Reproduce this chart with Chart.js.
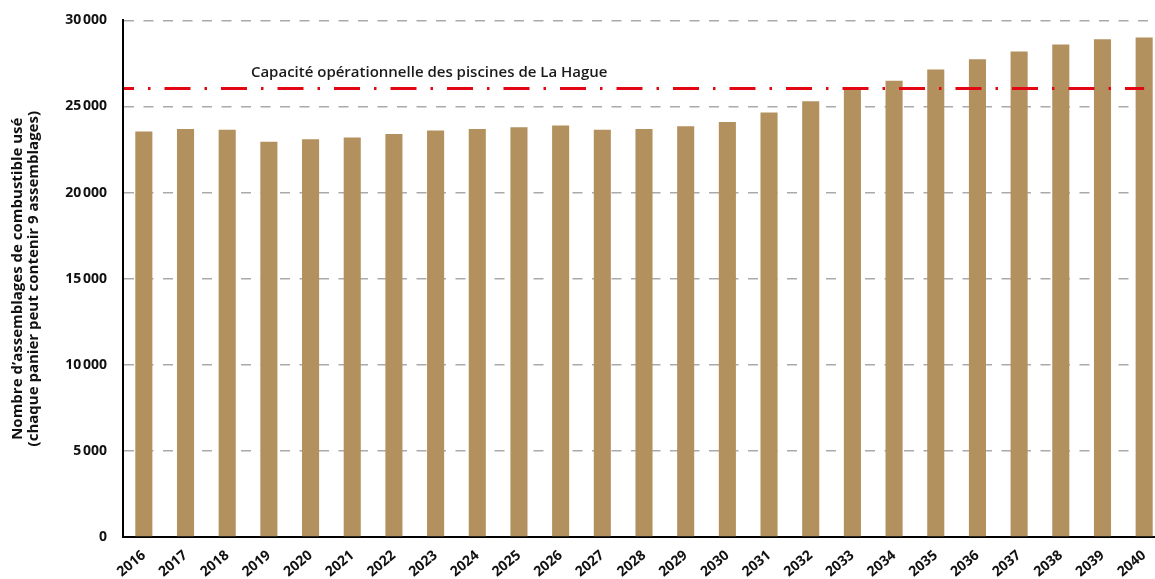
<!DOCTYPE html>
<html lang="fr">
<head>
<meta charset="utf-8">
<title>Assemblages de combustible usé</title>
<script src="https://cdn.jsdelivr.net/npm/chart.js@4/dist/chart.umd.min.js"></script>
<style>
    html, body { margin: 0; padding: 0; background: #fff; overflow: hidden; }
    #wrap { width: 1165px; height: 583px; margin-top: -4px; }
</style>
</head>
<body>
<div id="wrap"><canvas id="chart"></canvas></div>
<script>
// Données
const annees = ['2016', '2017', '2018', '2019', '2020', '2021', '2022', '2023', '2024', '2025',
    '2026', '2027', '2028', '2029', '2030', '2031', '2032', '2033', '2034', '2035',
    '2036', '2037', '2038', '2039', '2040'];
const assemblages = [23550, 23700, 23650, 22950, 23100, 23200, 23400, 23600, 23700, 23800,
    23900, 23650, 23700, 23850, 24100, 24650, 25300, 26000, 26500, 27150,
    27750, 28200, 28600, 28900, 29000];
const capacite = 26050;
const capaciteLabel = 'Capacité opérationnelle des piscines de La Hague';
const yTicks = [0, 5000, 10000, 15000, 20000, 25000, 30000];
const yTitre = ['Nombre d’assemblages de combustible usé', '(chaque panier peut contenir 9 assemblages)'];

const police = "'Open Sans', 'DejaVu Sans', sans-serif";

document.addEventListener('DOMContentLoaded', function() {
    const ctx = document.getElementById('chart').getContext('2d');

    // Ligne de capacité (tiret-point rouge) + libellé
    const ligneCapacite = {
        id: 'ligneCapacite',
        afterDatasetsDraw(chart) {
            const { ctx, chartArea, scales } = chart;
            const y = scales.y.getPixelForValue(capacite);
            const xFin = scales.x.getPixelForValue(annees.length - 1);
            ctx.save();
            ctx.strokeStyle = '#e30613';
            ctx.lineWidth = 3;
            ctx.setLineDash([26, 14, 2.5, 14]);
            ctx.lineDashOffset = 16;
            ctx.beginPath();
            ctx.moveTo(chartArea.left + 1, y);
            ctx.lineTo(xFin, y);
            ctx.stroke();
            ctx.setLineDash([]);
            ctx.fillStyle = '#1a1a1a';
            ctx.font = '600 15px ' + police;
            ctx.textBaseline = 'alphabetic';
            ctx.fillText(capaciteLabel, scales.x.getPixelForValue(3) - 18, y - 11);
            ctx.restore();
        }
    };

    new Chart(ctx, {
        type: 'bar',
        data: {
            labels: annees,
            datasets: [{
                data: assemblages,
                backgroundColor: '#b3915e',
                barPercentage: 0.41,
                categoryPercentage: 1
            }]
        },
        options: {
            responsive: true,
            maintainAspectRatio: false,
            animation: false,
            layout: { padding: { top: 16, right: 0, left: 0, bottom: 0 } },
            plugins: {
                legend: { display: false },
                tooltip: { enabled: false }
            },
            scales: {
                x: {
                    grid: { display: false },
                    border: { color: '#000', width: 2 },
                    ticks: {
                        color: '#111',
                        font: { family: police, size: 14, weight: 'bold' },
                        maxRotation: 40,
                        minRotation: 40,
                        padding: 2
                    },
                    afterFit(scale) { scale.height = 42; }
                },
                y: {
                    min: 0,
                    max: 30000,
                    afterBuildTicks(scale) {
                        scale.ticks = yTicks.map(v => ({ value: v }));
                    },
                    grid: {
                        color: '#aaaaaa',
                        lineWidth: 1.5,
                        drawTicks: false
                    },
                    border: { color: '#000', width: 2, dash: [10, 9.5] },
                    ticks: {
                        color: '#111',
                        padding: 16,
                        font: { family: police, size: 14, weight: 'bold' },
                        callback: v => v === 0 ? '0' : String(v).replace(/(\d+)(\d{3})$/, '$1\u202F$2')
                    },
                    title: {
                        display: true,
                        text: yTitre,
                        color: '#111',
                        font: { family: police, size: 15, weight: 'bold', lineHeight: 1.05 },
                        padding: { top: 10, bottom: 0 }
                    },
                    afterFit(scale) { scale.width = 123; }
                }
            }
        },
        plugins: [ligneCapacite]
    });
});
</script>
</body>
</html>
